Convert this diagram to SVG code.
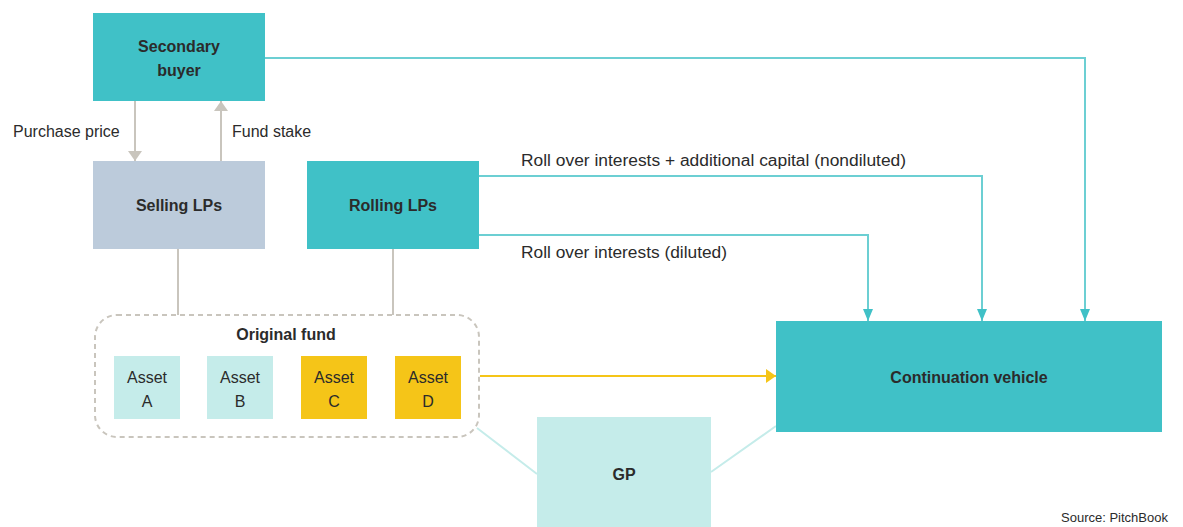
<svg xmlns="http://www.w3.org/2000/svg" width="1183" height="527" viewBox="0 0 1183 527">
<style>
text{font-family:"Liberation Sans","DejaVu Sans",sans-serif;fill:#2b2b2b}
.b{font-weight:bold;font-size:16px;text-anchor:middle}
.r{font-size:16px}
.c{font-size:16px;text-anchor:middle}
.teal{fill:#40C1C7}
.tl{fill:none;stroke:#6CCFD3;stroke-width:2}
.gl{fill:none;stroke:#C9C5BD;stroke-width:2}
</style>
<defs>
<marker id="at" markerWidth="14" markerHeight="10" refX="12" refY="5" orient="auto" markerUnits="userSpaceOnUse"><path d="M0,0 L12,5 L0,10 Z" fill="#40C1C7"/></marker>
<marker id="ag" markerWidth="16" markerHeight="14" refX="10" refY="7" orient="auto" markerUnits="userSpaceOnUse"><path d="M0,0 L10,7 L0,14 Z" fill="#C9C5BD"/></marker>
<marker id="ay" markerWidth="12" markerHeight="14" refX="10" refY="7" orient="auto" markerUnits="userSpaceOnUse"><path d="M0,0 L10,7 L0,14 Z" fill="#F5C518"/></marker>
</defs>
<rect width="1183" height="527" fill="#fff"/>
<g id="connectors">
<path class="gl" d="M135,101 V161" marker-end="url(#ag)"/>
<path class="gl" d="M221,161 V101" marker-end="url(#ag)"/>
<path class="gl" d="M178,249 V315"/>
<path class="gl" d="M393,249 V315"/>
<path class="tl" d="M265,58 H1085 V321" marker-end="url(#at)"/>
<path class="tl" d="M479,176 H982 V321" marker-end="url(#at)"/>
<path class="tl" d="M479,235 H868 V321" marker-end="url(#at)"/>
<path d="M480,376 H776" fill="none" stroke="#F5C518" stroke-width="2" marker-end="url(#ay)"/>
<path d="M477,428 L537,474 M711,472 L776,426" fill="none" stroke="#C5ECEA" stroke-width="2"/>
<text class="r" x="13" y="137">Purchase price</text>
<text class="r" x="232" y="137">Fund stake</text>
<text class="r" x="521" y="166" textLength="385" lengthAdjust="spacingAndGlyphs">Roll over interests + additional capital (nondiluted)</text>
<text class="r" x="521" y="258" textLength="206" lengthAdjust="spacingAndGlyphs">Roll over interests (diluted)</text>
</g>
<g id="secondary-buyer">
<rect class="teal" x="93" y="13" width="172" height="88"/>
<text class="b" x="179" y="52">Secondary</text>
<text class="b" x="179" y="76">buyer</text>
</g>
<g id="selling-lps">
<rect x="93" y="161" width="172" height="88" fill="#BCCBDB"/>
<text class="b" x="179" y="211">Selling LPs</text>
</g>
<g id="rolling-lps">
<rect class="teal" x="307" y="161" width="172" height="88"/>
<text class="b" x="393" y="211">Rolling LPs</text>
</g>
<g id="original-fund">
<rect x="95" y="315" width="384" height="122" rx="22" fill="none" stroke="#C9C5BD" stroke-width="2" stroke-dasharray="5,4"/>
<text class="b" x="286" y="340">Original fund</text>
</g>
<g id="asset-a">
<rect x="114" y="356" width="66" height="63" fill="#C5ECEA"/>
<text class="c" x="147" y="383">Asset</text>
<text class="c" x="147" y="407">A</text>
</g>
<g id="asset-b">
<rect x="207" y="356" width="66" height="63" fill="#C5ECEA"/>
<text class="c" x="240" y="383">Asset</text>
<text class="c" x="240" y="407">B</text>
</g>
<g id="asset-c">
<rect x="301" y="356" width="66" height="63" fill="#F5C518"/>
<text class="c" x="334" y="383">Asset</text>
<text class="c" x="334" y="407">C</text>
</g>
<g id="asset-d">
<rect x="395" y="356" width="66" height="63" fill="#F5C518"/>
<text class="c" x="428" y="383">Asset</text>
<text class="c" x="428" y="407">D</text>
</g>
<g id="continuation-vehicle">
<rect class="teal" x="776" y="321" width="386" height="111"/>
<text class="b" x="969" y="383">Continuation vehicle</text>
</g>
<g id="gp">
<rect x="537" y="417" width="174" height="115" fill="#C5ECEA"/>
<text class="b" x="624" y="480">GP</text>
</g>
<text x="1061" y="522" font-size="13" fill="#555">Source: PitchBook</text>
</svg>
